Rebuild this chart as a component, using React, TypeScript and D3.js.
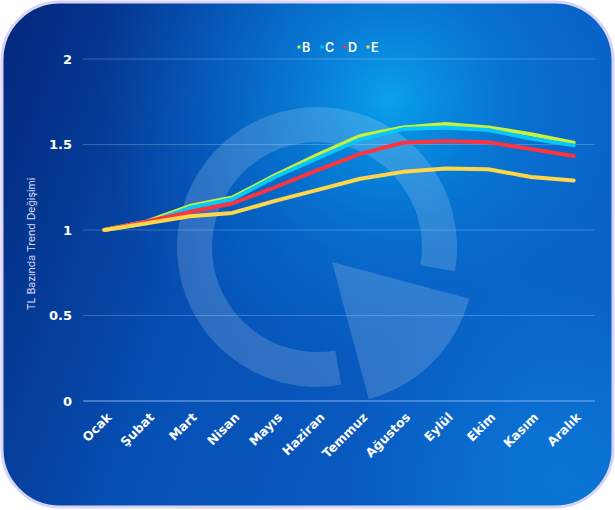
import { useMemo } from 'react';
import * as d3 from 'd3';

// months along the x axis
const months = ['Ocak', 'Şubat', 'Mart', 'Nisan', 'Mayıs', 'Haziran', 'Temmuz', 'Ağustos', 'Eylül', 'Ekim', 'Kasım', 'Aralık'];

// series values
const seriesB = [1.0, 1.05, 1.14, 1.19, 1.32, 1.44, 1.55, 1.6, 1.62, 1.6, 1.56, 1.51];
const seriesC = [1.0, 1.04, 1.13, 1.18, 1.31, 1.42, 1.53, 1.59, 1.6, 1.585, 1.535, 1.495];
const seriesD = [1.0, 1.05, 1.105, 1.155, 1.25, 1.35, 1.445, 1.51, 1.52, 1.513, 1.474, 1.433];
const seriesE = [1.0, 1.04, 1.08, 1.1, 1.17, 1.235, 1.3, 1.34, 1.36, 1.355, 1.31, 1.29];

const seriesNames = ['B', 'C', 'D', 'E'];
const seriesColors = ['#c8f03c', '#08c6f8', '#fb3440', '#ffd54a'];

const yTicks = [0, 0.5, 1, 1.5, 2];
const yTitle = 'TL Bazında Trend Değişimi';

const W = 615;
const H = 510;
const margin = { top: 59, right: 20, bottom: 109, left: 83 };

export default function App() {
  const data = [seriesB, seriesC, seriesD, seriesE];

  const x = useMemo(
    () => d3.scalePoint<string>().domain(months).range([margin.left, W - margin.right]).padding(0.5),
    []
  );
  const y = useMemo(() => d3.scaleLinear().domain([0, 2]).range([H - margin.bottom, margin.top]), []);

  const line = d3
    .line<number>()
    .x((_d, i) => x(months[i]) ?? 0)
    .y((d) => y(d));

  // watermark logo: open ring + pie wedge
  const ring = d3.arc()({
    innerRadius: 105,
    outerRadius: 140,
    startAngle: (170 * Math.PI) / 180,
    endAngle: (460 * Math.PI) / 180,
  }) as string;
  const wedge = d3.arc()({
    innerRadius: 0,
    outerRadius: 142,
    startAngle: (105 * Math.PI) / 180,
    endAngle: (165 * Math.PI) / 180,
  }) as string;

  const labelFont = '"DejaVu Sans", Verdana, sans-serif';

  return (
    <div style={{ position: 'absolute', left: 0, top: 0 }}>
      <svg width={W} height={H} style={{ display: 'block', fontFamily: labelFont }}>
        <defs>
          <linearGradient id="bgBase" x1="0" y1="0" x2="1" y2="0.3">
            <stop offset="0%" stopColor="#04267a" />
            <stop offset="45%" stopColor="#0650b4" />
            <stop offset="100%" stopColor="#0a5fc6" />
          </linearGradient>
          <radialGradient id="bgGlow" cx="390" cy="100" r="290" gradientUnits="userSpaceOnUse">
            <stop offset="0%" stopColor="#0aa4ee" stopOpacity={0.95} />
            <stop offset="45%" stopColor="#0888e0" stopOpacity={0.5} />
            <stop offset="100%" stopColor="#0670d4" stopOpacity={0} />
          </radialGradient>
          <radialGradient id="bgGlow2" cx="560" cy="480" r="220" gradientUnits="userSpaceOnUse">
            <stop offset="0%" stopColor="#0a86e0" stopOpacity={0.6} />
            <stop offset="100%" stopColor="#0a86e0" stopOpacity={0} />
          </radialGradient>
          <clipPath id="card">
            <rect x={2} y={2} width={W - 4} height={H - 5} rx={58} ry={58} />
          </clipPath>
        </defs>

        <rect width={W} height={H} fill="#ffffff" />
        <g clipPath="url(#card)">
          <rect width={W} height={H} fill="url(#bgBase)" />
          <rect width={W} height={H} fill="url(#bgGlow)" />
          <rect width={W} height={H} fill="url(#bgGlow2)" />

          <g opacity={0.16} fill="#ffffff">
            <path d={ring} transform="translate(317,247)" />
            <path d={wedge} transform="translate(332,262)" />
          </g>
        </g>
        <rect x={2} y={2} width={W - 4} height={H - 5} rx={58} ry={58} fill="none" stroke="#d9d4f6" strokeWidth={3} />

        {/* grid + y ticks */}
        {yTicks.map((t) => (
          <g key={t}>
            <line
              x1={margin.left}
              x2={W - margin.right}
              y1={y(t)}
              y2={y(t)}
              stroke={t === 0 ? '#8fb8f2' : '#ffffff'}
              strokeOpacity={t === 0 ? 0.9 : 0.22}
              strokeWidth={1}
            />
            <text
              x={72}
              y={y(t)}
              dy="0.36em"
              textAnchor="end"
              fill="#ffffff"
              fontSize={13}
              fontWeight={700}
            >
              {t}
            </text>
          </g>
        ))}

        <text
          transform={`translate(35,${(y(0) + y(2)) / 2 + 14}) rotate(-90)`}
          textAnchor="middle"
          fill="#dcdcf5"
          fontSize={10.5}
          fontFamily="Inter, sans-serif"
        >
          {yTitle}
        </text>

        {/* x labels */}
        {months.map((m) => (
          <text
            key={m}
            transform={`translate(${(x(m) ?? 0) + 8},${y(0) + 17}) rotate(-45)`}
            textAnchor="end"
            fill="#ffffff"
            fontSize={12.5}
            fontWeight={700}
          >
            {m}
          </text>
        ))}

        {/* series */}
        {data.map((s, i) => (
          <path
            key={seriesNames[i]}
            d={line(s) ?? ''}
            fill="none"
            stroke={seriesColors[i]}
            strokeWidth={4}
            strokeLinecap="round"
            strokeLinejoin="round"
          />
        ))}

        {/* legend */}
        <g transform="translate(299,47)">
          {seriesNames.map((n, i) => (
            <g key={n} transform={`translate(${i * 23},0)`}>
              <rect x={-1.5} y={-1.5} width={3} height={3} fill={seriesColors[i]} />
              <text x={3} dy="0.36em" fill="#ffffff" fontSize={12.5} fontWeight={600} fontFamily="Inter, sans-serif">
                {n}
              </text>
            </g>
          ))}
        </g>
      </svg>
    </div>
  );
}
